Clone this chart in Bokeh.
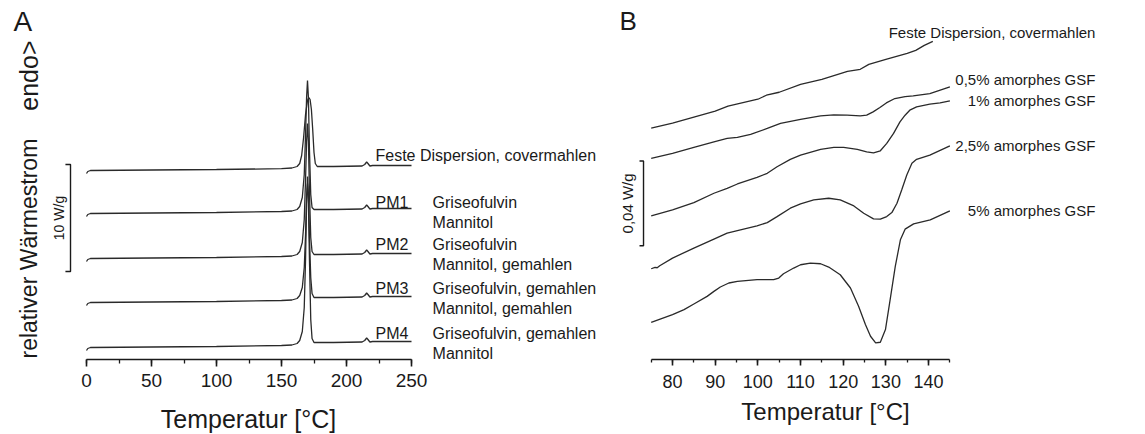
from bokeh.plotting import figure
from bokeh.layouts import row
from bokeh.models import Range1d, Label, SingleIntervalTicker
from bokeh.embed import file_html
from bokeh.resources import INLINE

FONT = "Liberation Sans"
INK = "#1a1a1a"
TRACE = "#2a2a2a"

# ---------------- Panel A data (temperature in °C, relative heat flow in a.u.; 107 a.u. = 10 W/g)
a_feste_temp = [0, 1, 3, 50, 100, 150, 158, 162, 164, 165.5, 167, 168.5, 170, 171, 172, 173, 174, 175,
                176, 177.5, 190, 212, 214, 215.5, 216.5, 218, 220, 250]
a_feste = [186, 188, 189, 189.5, 190, 190.8, 191.5, 193, 196, 204, 222, 245, 259, 262, 260, 250, 230, 207,
           196, 193, 193, 193.5, 195, 197.5, 196, 193.5, 194, 194]
a_pm_temp = [0, 1, 3, 50, 100, 150, 158, 162, 164, 166, 167.5, 168.5, 169.3, 170, 170.7, 171.5, 172.5,
             173.5, 175, 190, 212, 214, 215.5, 216.5, 218, 220, 250]
a_pm1 = [143, 145, 146, 146.5, 147, 148, 148.5, 150, 153, 162, 185, 225, 262, 279, 262, 210, 165, 152,
         150, 150, 150.5, 152, 154.5, 153, 150.5, 151, 151]
a_pm2 = [98, 100, 101, 101.5, 102, 103, 103.5, 105, 108, 117, 140, 180, 218, 236, 218, 168, 122, 108,
         105, 105, 105.5, 107, 109.5, 108, 105.5, 106, 106]
a_pm3 = [54, 56, 57, 57.5, 58, 59, 59.5, 61, 64, 72, 92, 125, 164, 176, 166, 122, 82, 66,
         62, 62, 62.5, 64, 66.5, 65, 62.5, 63, 63]
a_pm4 = [9, 11, 12, 12.5, 13, 14, 14.5, 16, 19, 28, 52, 100, 155, 183, 160, 100, 40, 21,
         17, 17, 17.5, 19, 21.5, 20, 17.5, 18, 18]
a_names = ["PM1", "PM2", "PM3", "PM4"]
a_line1 = ["Griseofulvin", "Griseofulvin", "Griseofulvin, gemahlen", "Griseofulvin, gemahlen"]
a_line2 = ["Mannitol", "Mannitol, gemahlen", "Mannitol, gemahlen", "Mannitol"]
a_scale_len = 107   # a.u. for 10 W/g

# ---------------- Panel B data (temperature in °C, relative heat flow in a.u.; 85 a.u. = 0,04 W/g)
b_feste_temp = [75, 80, 85, 90, 93, 95, 100, 102, 105, 110, 115, 118, 121, 124, 126, 130, 135, 137, 139, 141]
b_feste = [232, 237, 243, 249, 254, 256, 261, 265, 268, 276, 281, 285, 289, 291, 296, 301, 307, 310, 315, 319]

b_05_temp = [75, 80, 85, 89.7, 92.8, 95.2, 98.3, 102.2, 105.3, 110, 114.7, 117.8, 120.9, 124, 125.5, 127,
             128.6, 130.1, 132.1, 134.5, 136.4, 140.3, 145]
b_05 = [201.7, 206.7, 212.7, 218.3, 221.7, 222.7, 225.7, 231.7, 236.7, 240.7, 244.3, 245.3, 245, 244.3,
        245, 248.3, 252.7, 257.3, 261.7, 263.7, 264.3, 266.7, 273.3]

b_1_temp = [75, 80, 85, 89.7, 92.8, 95.2, 99.8, 102.2, 104.5, 107.6, 110, 114.7, 117.8, 120.1, 123.3, 125.5,
            127.1, 128.7, 130.2, 131.8, 133.3, 134.5, 135.6, 137.2, 140.3, 142.7, 145]
b_1 = [144, 150, 157.3, 166.7, 171.7, 176, 182.7, 186.7, 193.3, 200.7, 205, 210.7, 212.7, 212.7, 210.7,
       208.3, 207.3, 209.3, 216.7, 226.7, 238.3, 245, 250, 253.3, 256, 257.3, 259.3]

b_25_temp = [75, 75.9, 76.4, 77, 80, 85, 89.7, 92.8, 95.2, 99.8, 102.2, 104.5, 107.6, 110, 113.1, 116.6,
             119.3, 122.5, 124.8, 127.1, 128.7, 130.2, 131.4, 132.6, 133.7, 134.9, 136.1, 137.2, 140.3, 145]
b_25 = [91, 92.3, 92, 94, 101.7, 111.7, 120.7, 126.7, 129.3, 134, 137.3, 143.3, 151.7, 156, 160, 161.7,
        160, 154, 146.7, 141, 140.7, 143.3, 147.3, 156.7, 170, 185, 196.7, 200.7, 205, 214.3]

b_5_temp = [75, 80, 82.7, 85, 88.1, 89.7, 91.2, 93.2, 95.2, 99.8, 103.7, 104.9, 106, 108.4, 110, 112.3,
            114.7, 116.6, 119.3, 121.7, 123.6, 125.2, 126.4, 127.6, 128.7, 129.9, 131, 132.2, 133.4,
            134.5, 136.5, 140.4, 145]
b_5 = [37.3, 45, 50, 55.7, 63.3, 68.3, 72.7, 76.7, 78.3, 80, 80, 81.7, 86, 91.7, 95, 96.7,
       96, 92.7, 85, 71.7, 53.3, 35, 23.3, 16.7, 17.3, 30, 60, 93.3, 120,
       130.7, 136, 140, 149]
b_labels = ["Feste Dispersion, covermahlen", "0,5% amorphes GSF", "1% amorphes GSF",
            "2,5% amorphes GSF", "5% amorphes GSF"]
b_scale_len = 85    # a.u. for 0,04 W/g

WA, WB = 610, 535


def base_fig(width, height, xr, yr, bottom):
    p = figure(width=width, height=height, x_range=Range1d(*xr), y_range=Range1d(*yr),
               output_backend="svg", toolbar_location=None, y_axis_location=None,
               min_border_left=0, min_border_right=0, min_border_top=0, min_border_bottom=bottom)
    p.outline_line_color = None
    p.xgrid.visible = False
    p.ygrid.visible = False
    p.background_fill_color = "white"
    p.border_fill_color = "white"
    return p


def style_axis(ax, size):
    ax.axis_line_width = 1.6
    ax.axis_line_color = INK
    ax.major_tick_line_color = INK
    ax.minor_tick_line_color = INK
    ax.major_tick_line_width = 1.6
    ax.minor_tick_line_width = 1.3
    ax.major_tick_in = 0
    ax.minor_tick_in = 0
    ax.major_label_text_font = FONT
    ax.major_label_text_font_size = size
    ax.major_label_text_color = INK


def lab(p, x, y, text, size, align="left", baseline="middle", angle=0, place=None):
    lb = Label(x=x, y=y, text=text, text_font=FONT, text_font_size=size,
               text_color=INK, text_align=align, text_baseline=baseline, angle=angle)
    if place is None:
        p.add_layout(lb)
    else:
        p.add_layout(lb, place)


# ---------------- Panel A
pa = base_fig(WA, 434, (-86 / 1.3, (WA - 86) / 1.3), (0, 359), 75)
pa.line(a_feste_temp, a_feste, line_color=TRACE, line_width=1.3)
for ys in (a_pm1, a_pm2, a_pm3, a_pm4):
    pa.line(a_pm_temp, ys, line_color=TRACE, line_width=1.3)
ax = pa.xaxis[0]
ax.bounds = (0, 250)
ax.ticker = SingleIntervalTicker(interval=50, num_minor_ticks=2)
ax.major_tick_out = 7
ax.minor_tick_out = 4
ax.major_label_standoff = 7
style_axis(ax, "19px")
lab(pa, 124.6, -59, "Temperatur [°C]", "25px", align="center", place="below")

lab(pa, 222.3, 204, "Feste Dispersion, covermahlen", "16px")
a_label_y = [157, 115, 71, 26]
for i in range(4):
    lab(pa, 222.3, a_label_y[i], a_names[i], "16px")
    lab(pa, 266.2, a_label_y[i], a_line1[i], "16px")
    lab(pa, 266.2, a_label_y[i] - 20, a_line2[i], "16px")

# scale bar A
sx, sx2, stop = -12.3, -16.2, 195
pa.line([sx2, sx, sx, sx2], [stop, stop, stop - a_scale_len, stop - a_scale_len],
        line_color=INK, line_width=1.4)
lab(pa, -20.8, stop - a_scale_len / 2, "10 W/g", "14px", align="center", angle=1.5708)

lab(pa, -44.6, 1, "relativer Wärmestrom", "23px", align="left", angle=1.5708)
lab(pa, -44.6, 319, "endo>", "25px", align="right", angle=1.5708)
lab(pa, -56.2, 354, "A", "28px", baseline="top")

# ---------------- Panel B
k = 4.267
off = 650.7 - WA
pb = base_fig(WB, 434, (75 - off / k, 75 + (WB - off) / k), (0, 360), 74)
for xs, ys in ((b_feste_temp, b_feste), (b_05_temp, b_05), (b_1_temp, b_1),
               (b_25_temp, b_25), (b_5_temp, b_5)):
    pb.line(xs, ys, line_color=TRACE, line_width=1.3)
bx = pb.xaxis[0]
bx.bounds = (75, 145)
bx.ticker = SingleIntervalTicker(interval=10, num_minor_ticks=2)
bx.major_tick_out = 6
bx.minor_tick_out = 3
bx.major_label_standoff = 9
style_axis(bx, "18px")
lab(pb, 115.85, -52, "Temperatur [°C]", "24px", align="center", place="below")

b_label_y = [328, 281, 260, 214.3, 149]
for t, yv in zip(b_labels, b_label_y):
    lab(pb, 179.1, yv, t, "15px", align="right")

bsx, bsx2, btop = 73.2, 72.26, 199
pb.line([bsx2, bsx, bsx, bsx2], [btop, btop, btop - b_scale_len, btop - b_scale_len],
        line_color=INK, line_width=1.4)
lab(pb, 69.45, btop - b_scale_len / 2, "0,04 W/g", "15px", align="center", angle=1.5708)
lab(pb, 67.6, 354, "B", "26px", baseline="top")

layout = row(pa, pb)
open("out.html", "w").write(file_html(layout, INLINE))
